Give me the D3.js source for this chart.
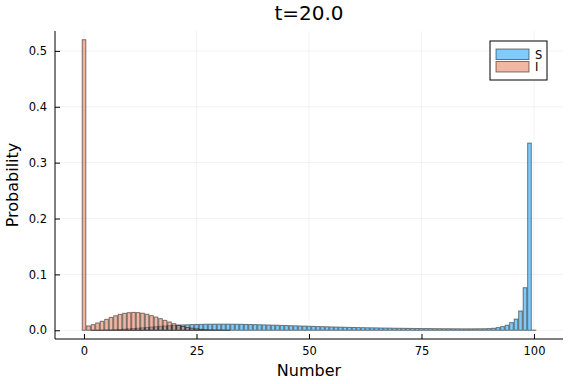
<!DOCTYPE html>
<html><head><meta charset="utf-8">
<script src="https://cdn.jsdelivr.net/npm/d3@7"></script>
<style>body{margin:0;background:#fff}svg{display:block}text{font-family:"DejaVu Sans",sans-serif}</style>
</head><body><div id="c"></div>
<script>
const titleText = "t=20.0";
const xLabel = "Number";
const yLabel = "Probability";
const seriesNames = ["S", "I"];
const seriesColors = ["#009AFA", "#E36F47"];
const xTicks = [0, 25, 50, 75, 100];
const yTicks = [0.0, 0.1, 0.2, 0.3, 0.4, 0.5];
const numbers = d3.range(0, 101);
const S = [0,0,0.0001,0.0002,0.0003,0.0005,0.0008,0.0011,0.0015,0.002,
0.0025,0.0031,0.0037,0.0044,0.005,0.0057,0.0064,0.0071,0.0077,0.0083,
0.0088,0.0092,0.0096,0.0099,0.0102,0.0104,0.0106,0.0108,0.0109,0.011,
0.011,0.011,0.011,0.0109,0.0108,0.0107,0.0105,0.0103,0.0101,0.0099,
0.0097,0.0095,0.0092,0.009,0.0087,0.0085,0.0082,0.008,0.0077,0.0075,
0.0072,0.007,0.0067,0.0065,0.0063,0.006,0.0058,0.0056,0.0054,0.0052,
0.005,0.0048,0.0047,0.0045,0.0044,0.0043,0.0041,0.004,0.0039,0.0037,
0.0036,0.0035,0.0034,0.0033,0.0032,0.0031,0.0031,0.003,0.0029,0.0029,
0.0028,0.0028,0.0027,0.0027,0.0026,0.0026,0.0026,0.0027,0.0027,0.0028,
0.003,0.0036,0.0048,0.0066,0.009,0.0137,0.020,0.0345,0.0762,0.335,
0.0003];
const I = [0.52,0.0077,0.0101,0.0131,0.0161,0.0196,0.0230,0.0260,0.0285,0.0303,
0.0315,0.0320,0.0316,0.0305,0.0287,0.0262,0.0237,0.0208,0.0178,0.0148,
0.0118,0.0090,0.0068,0.0050,0.0037,0.0026,0.0017,0.0011,0.0007,0.0004,
0.0003,0.0002,0.0001,0,0,0,0,0,0,0,
0,0,0,0,0,0,0,0,0,0,
0,0,0,0,0,0,0,0,0,0,
0,0,0,0,0,0,0,0,0,0,
0,0,0,0,0,0,0,0,0,0,
0,0,0,0,0,0,0,0,0,0,
0,0,0,0,0,0,0,0,0,0,
0];
const seriesValues = [S, I];

const W = 576, H = 384;
const L = 55, R = 563, T = 31, B = 339;
const svg = d3.select("#c").append("svg").attr("width", W).attr("height", H);

const x = d3.scaleLinear().domain([-6.45, 106.45]).range([L, R]);
const y = d3.scaleLinear().domain([-0.0156, 0.5356]).range([B, T]);

// grid
const grid = svg.append("g");
grid.selectAll(".gx").data(xTicks).join("line")
  .attr("x1", d => x(d)).attr("x2", d => x(d)).attr("y1", T).attr("y2", B)
  .attr("stroke", "#000").attr("stroke-opacity", 0.1).attr("stroke-width", 0.5);
grid.selectAll(".gy").data(yTicks).join("line")
  .attr("x1", L).attr("x2", R).attr("y1", d => y(d)).attr("y2", d => y(d))
  .attr("stroke", "#000").attr("stroke-opacity", 0.1).attr("stroke-width", 0.5);

// bars
const bw = x(0.4) - x(-0.4);
seriesValues.forEach((vals, si) => {
  svg.append("g").selectAll("rect").data(numbers).join("rect")
    .attr("x", d => x(d) - bw / 2)
    .attr("width", bw)
    .attr("y", d => y(vals[d]))
    .attr("height", d => y(0) - y(vals[d]))
    .attr("fill", seriesColors[si]).attr("fill-opacity", 0.5)
    .attr("stroke", "#000").attr("stroke-opacity", 0.5).attr("stroke-width", 1);
});

// axes
const xAxis = d3.axisBottom(x).tickValues(xTicks).tickSizeInner(-5).tickSizeOuter(0).tickPadding(8).tickFormat(d3.format("d"));
const gx = svg.append("g").attr("transform", `translate(0,${B})`).call(xAxis);
gx.select(".domain").attr("d", `M${L},0H${R}`).attr("stroke", "#000").attr("stroke-width", 1);
gx.selectAll(".tick line").attr("stroke", "#000");
gx.selectAll("text").attr("font-size", 11.5).attr("font-family", "DejaVu Sans").attr("fill", "#000");

const yAxis = d3.axisLeft(y).tickValues(yTicks).tickSizeInner(-5).tickSizeOuter(0).tickPadding(8).tickFormat(d3.format(".1f"));
const gy = svg.append("g").attr("transform", `translate(${L},0)`).call(yAxis);
gy.select(".domain").attr("d", `M0,${T}V${B}`).attr("stroke", "#000").attr("stroke-width", 1);
gy.selectAll(".tick line").attr("stroke", "#000");
gy.selectAll("text").attr("font-size", 11.5).attr("font-family", "DejaVu Sans").attr("fill", "#000");

// labels
svg.append("text").attr("x", (L + R) / 2).attr("y", 20).attr("text-anchor", "middle")
  .attr("font-size", 20).attr("fill", "#000").text(titleText);
svg.append("text").attr("x", (L + R) / 2).attr("y", 376).attr("text-anchor", "middle")
  .attr("font-size", 16).attr("fill", "#000").text(xLabel);
svg.append("text").attr("transform", `translate(18,${(T + B) / 2}) rotate(-90)`).attr("text-anchor", "middle")
  .attr("font-size", 16).attr("fill", "#000").text(yLabel);

// legend
const lg = svg.append("g").attr("transform", "translate(490,41)");
lg.append("rect").attr("width", 57).attr("height", 39).attr("fill", "#fff").attr("stroke", "#000").attr("stroke-width", 1);
seriesNames.forEach((n, i) => {
  lg.append("rect").attr("x", 6).attr("y", 8 + i * 12.5).attr("width", 33).attr("height", 10.5)
    .attr("fill", seriesColors[i]).attr("fill-opacity", 0.5)
    .attr("stroke", "#000").attr("stroke-opacity", 0.5).attr("stroke-width", 1);
  lg.append("text").attr("x", 45).attr("y", 13.5 + i * 12.5).attr("dy", "0.35em")
    .attr("font-size", 11.5).attr("fill", "#000").text(n);
});
</script></body></html>
